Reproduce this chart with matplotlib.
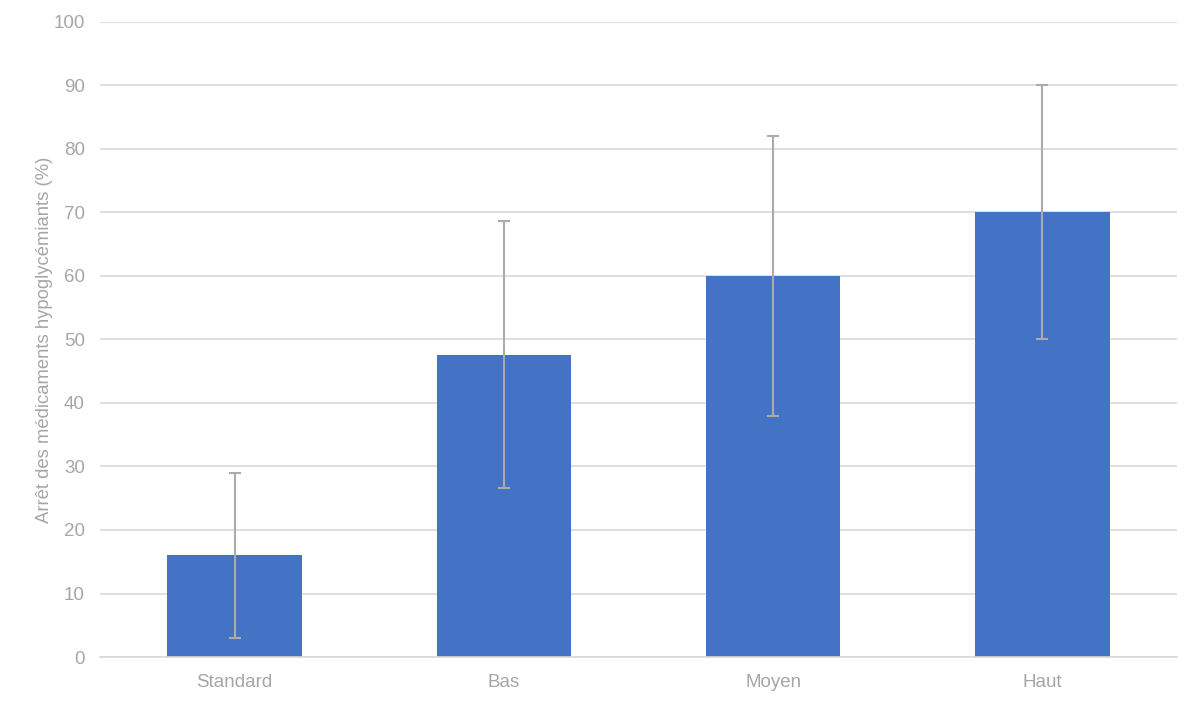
import matplotlib
matplotlib.use("Agg")
import matplotlib.pyplot as plt
import numpy as np

categories = ["Standard", "Bas", "Moyen", "Haut"]
values = [16, 47.6, 60, 70]
errors = [13, 21, 22, 20]

plt.rcParams['font.family'] = ['Liberation Sans', 'DejaVu Sans']

fig = plt.figure(figsize=(12, 7.03), dpi=100)
ax = fig.add_axes([100/1200, 1 - 657/703, 1077/1200, 635/703])

x = np.arange(len(categories))
ax.bar(x, values, width=0.5, color="#4472C4", zorder=2)
ax.errorbar(x, values, yerr=errors, fmt="none", ecolor="#ABABAB",
            elinewidth=1.5, capsize=4, capthick=1.5, zorder=3)

ax.set_xlim(-0.5, len(categories) - 0.5)
ax.set_ylim(0, 100)
ax.set_yticks(range(0, 101, 10))
ax.set_xticks(x)
ax.set_xticklabels(categories)
ax.yaxis.grid(True, color="#D9D9D9", linewidth=1.2, zorder=0)
ax.set_axisbelow(True)
for s in ["top", "right", "left"]:
    ax.spines[s].set_visible(False)
ax.spines["bottom"].set_color("#D9D9D9")
ax.spines["bottom"].set_linewidth(1.2)
ax.tick_params(axis="both", length=0, labelsize=13.5, colors="#A6A6A6")
ax.tick_params(axis="y", pad=11)
ax.tick_params(axis="x", pad=12)
ax.set_ylabel("Arrêt des médicaments hypoglycémiants (%)", color="#A6A6A6",
              fontsize=13.3, labelpad=0)

fig.savefig("out.png", dpi=100)
